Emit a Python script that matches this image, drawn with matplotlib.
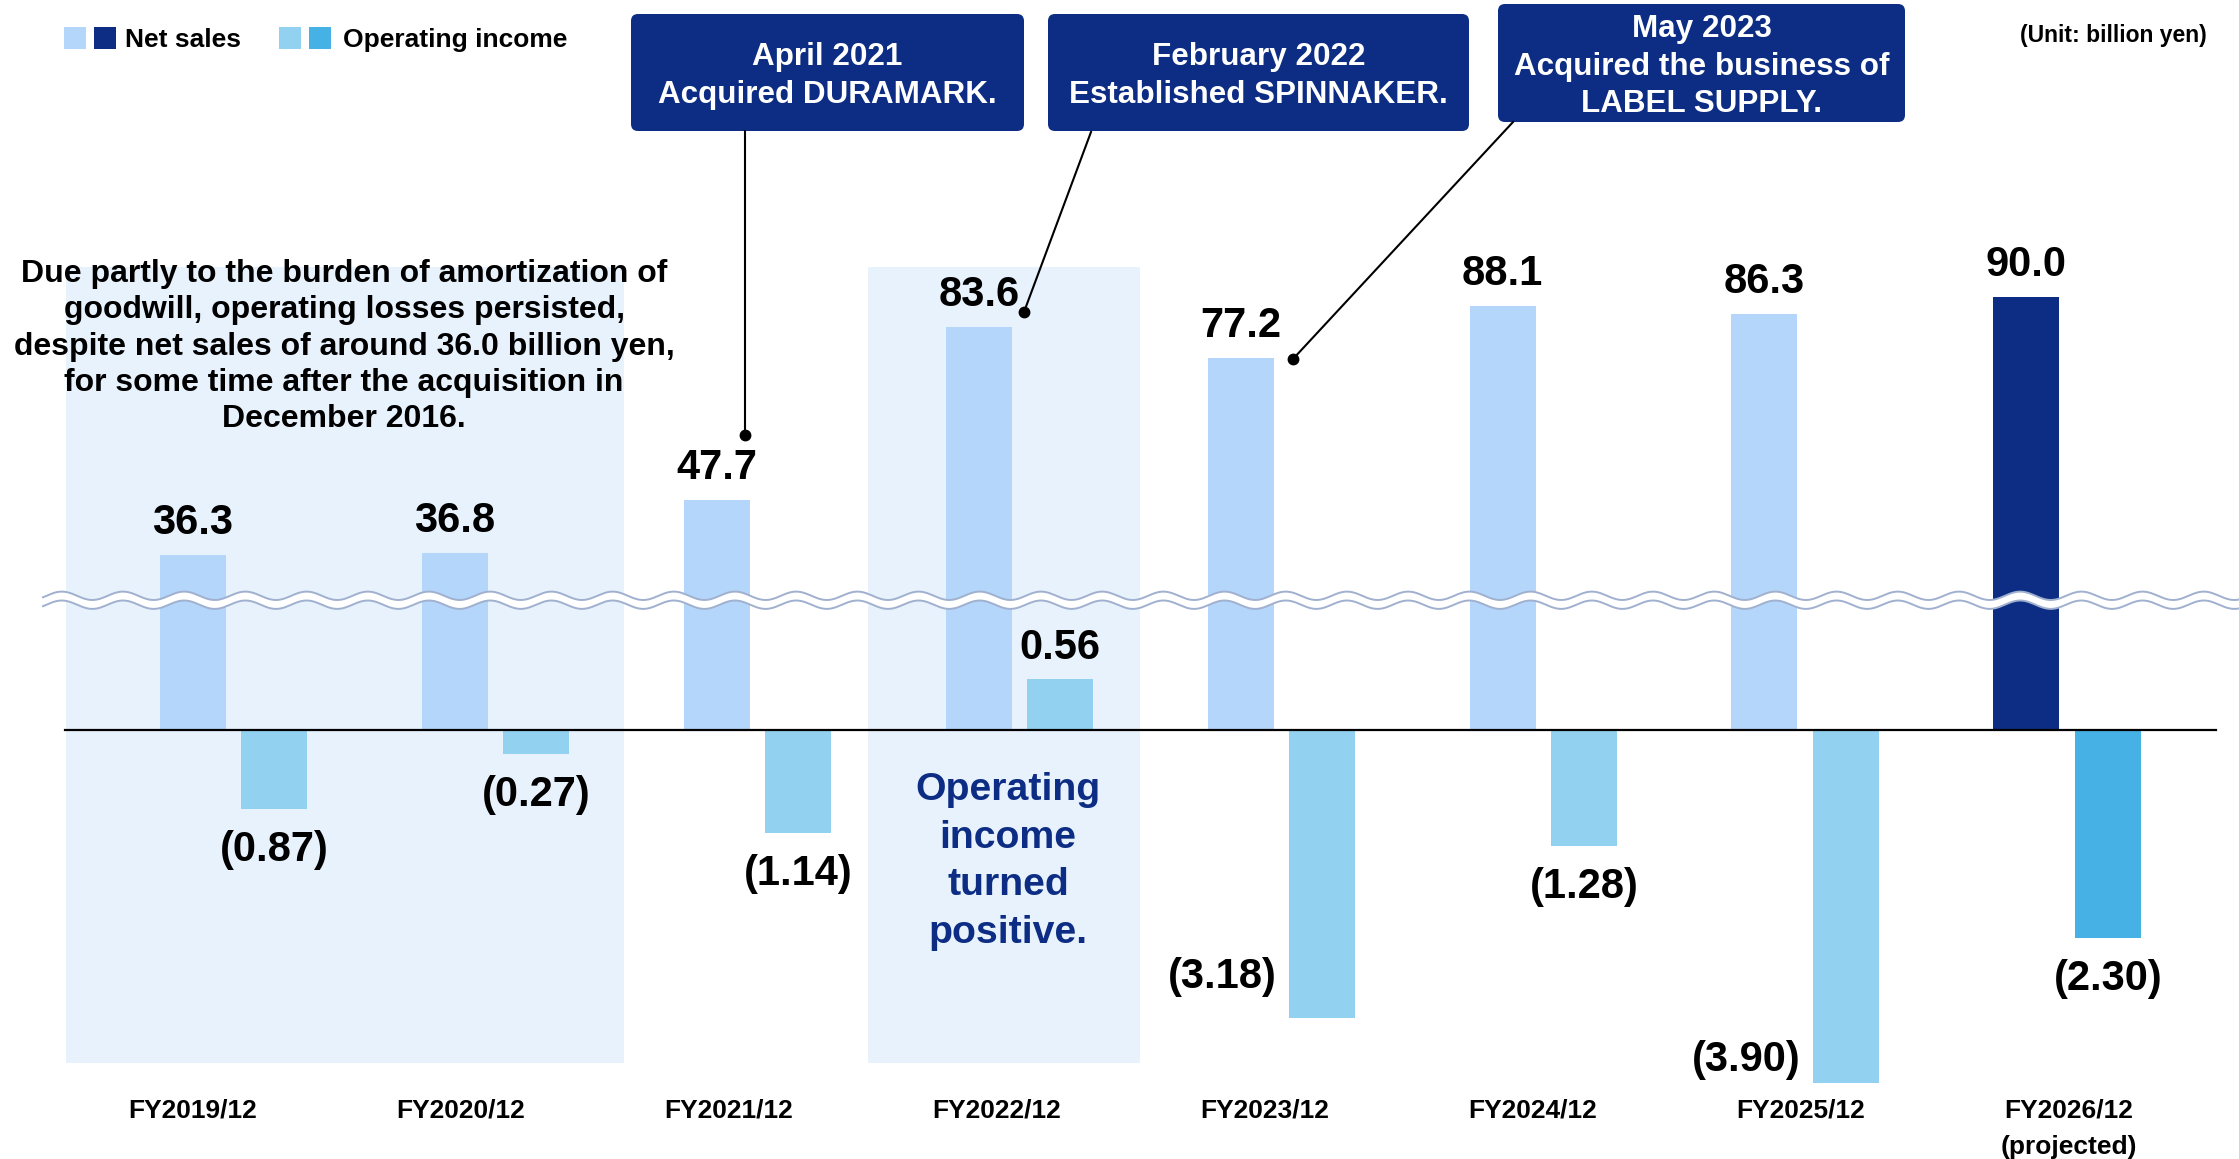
import numpy as np
import matplotlib.pyplot as plt
from matplotlib.patches import FancyBboxPatch, Rectangle, Polygon
from matplotlib.lines import Line2D
from matplotlib.transforms import Affine2D, blended_transform_factory

W, H, DPI = 2239, 1159, 100

years = ["FY2019/12", "FY2020/12", "FY2021/12", "FY2022/12",
         "FY2023/12", "FY2024/12", "FY2025/12", "FY2026/12"]
net_sales = [36.3, 36.8, 47.7, 83.6, 77.2, 88.1, 86.3, 90.0]
op_income = [-0.87, -0.27, -1.14, 0.56, -3.18, -1.28, -3.90, -2.30]
is_plan = [False, False, False, False, False, False, False, True]

C_NET = "#b4d6fa"
C_NET_P = "#0c2d83"
C_OP = "#92d1ef"
C_OP_P = "#46b1e4"
C_SHADE = "#e8f2fd"
NAVY = "#0c2d83"
WAVE = "#a0b0cf"

plt.rcParams['font.family'] = ['Liberation Sans', 'DejaVu Sans']
plt.rcParams['font.weight'] = 'bold'

fig = plt.figure(figsize=(W / DPI, H / DPI), dpi=DPI)
# pixel coords, origin at top-left
PX = Affine2D().scale(1 / DPI, -1 / DPI).translate(0, H / DPI) + fig.dpi_scale_trans

ax = fig.add_axes([0, 0, 1, 1])
ax2 = ax.twinx()
ax.set_xlim(-0.8925, 7.6565)
ax.set_ylim(-429 / 4.815, 730 / 4.815)     # net sales scale
ax2.set_ylim(-429 / 90.5, 730 / 90.5)      # operating income scale
ax.axis('off')
ax2.axis('off')

x = np.arange(len(years))
off = 81.5 / 2 / 261.9
bw = 66 / 261.9

# shaded periods
for x0, x1 in [(-0.64, 1.49), (2.42, 3.46)]:
    ax.axvspan(x0, x1, ymin=1 - 1063 / H, ymax=1 - 267 / H, color=C_SHADE, lw=0, zorder=0)

ax.bar(x - off, net_sales, bw, color=[C_NET_P if p else C_NET for p in is_plan], zorder=2)
ax2.bar(x + off, op_income, bw, color=[C_OP_P if p else C_OP for p in is_plan], zorder=2)
ax2.axhline(0, xmin=65 / W, xmax=2216 / W, color="black", lw=1.6, zorder=3)

for xi, v in zip(x, net_sales):
    ax.annotate(f"{v:.1f}", (xi - off, v), xytext=(0, 21), textcoords='offset pixels',
                ha='center', va='baseline', fontsize=30)

side = {4: 41, 6: 23}  # labels placed left of the bar
for i, (xi, v) in enumerate(zip(x, op_income)):
    if v >= 0:
        ax2.annotate(f"{v:.2f}", (xi + off, v), xytext=(0, 20), textcoords='offset pixels',
                     ha='center', va='baseline', fontsize=30)
    elif i in side:
        ax2.annotate(f"({-v:.2f})", (xi + off - bw / 2, v), xytext=(-12, side[i]),
                     textcoords='offset pixels', ha='right', va='center', fontsize=30)
    else:
        ax2.annotate(f"({-v:.2f})", (xi + off, v), xytext=(0, -21), textcoords='offset pixels',
                     ha='center', va='top', fontsize=30)

# category labels
bt = blended_transform_factory(ax.transData, PX)
for i, name in enumerate(years):
    lx = i * 1.0233 - off
    ax.text(lx, 1118, name, transform=bt, ha='center', va='baseline', fontsize=19)
    if is_plan[i]:
        ax.text(lx, 1154, "(projected)", transform=bt, ha='center', va='baseline', fontsize=19)

# axis break wave
wx = np.linspace(43, W, 900)
ph = np.cos(2 * np.pi * (wx - 123) / 61.2)
up = 595.8 - 4.2 * ph
lo = 604.7 - 4.2 * ph
fig.add_artist(Polygon(np.column_stack([np.r_[wx, wx[::-1]], np.r_[up, lo[::-1]]]),
                       closed=True, transform=PX, fc="white", ec="none", zorder=5))
fig.add_artist(Line2D(wx, up, transform=PX, color=WAVE, lw=1.4, zorder=6))
fig.add_artist(Line2D(wx, lo, transform=PX, color=WAVE, lw=1.4, zorder=6))

# legend
for lx0, c in [(64, C_NET), (94, C_NET_P), (279, C_OP), (309, C_OP_P)]:
    fig.add_artist(Rectangle((lx0, 27), 22, 22, transform=PX, fc=c, ec="none"))
fig.text(125, 47, "Net sales", transform=PX, fontsize=19, va='baseline')
fig.text(343, 47, "Operating income", transform=PX, fontsize=19, va='baseline')
fig.text(2207, 42, "(Unit: billion yen)", transform=PX, fontsize=16.5, ha='right', va='baseline')

# event call-outs
events = [
    ((631, 14, 393, 117), ["April 2021", "Acquired DURAMARK."], [65, 103],
     [(745, 131), (745, 435)]),
    ((1048, 14, 421, 117), ["February 2022", "Established SPINNAKER."], [65, 103],
     [(1091, 132), (1024, 312)]),
    ((1498, 4, 407, 118), ["May 2023", "Acquired the business of", "LABEL SUPPLY."],
     [37, 75, 112], [(1513, 122), (1293, 359)]),
]
for (bx, by, bwid, bh), lines, bases, ((x0, y0), (x1, y1)) in events:
    fig.add_artist(FancyBboxPatch((bx, by), bwid, bh, boxstyle="round,pad=0,rounding_size=7",
                                  transform=PX, fc=NAVY, ec="none", zorder=4))
    for t, b in zip(lines, bases):
        fig.text(bx + bwid / 2, b, t, transform=PX, color="white", fontsize=22.6,
                 ha='center', va='baseline', zorder=7)
    fig.add_artist(Line2D([x0, x1], [y0, y1], transform=PX, color="black", lw=1.5, zorder=4))
    fig.add_artist(Line2D([x1], [y1], transform=PX, marker='o', ms=7.5, color="black", zorder=4))

note = ["Due partly to the burden of amortization of",
        "goodwill, operating losses persisted,",
        "despite net sales of around 36.0 billion yen,",
        "for some time after the acquisition in",
        "December 2016."]
for k, t in enumerate(note):
    fig.text(344, 282 + 36.25 * k, t, transform=PX, fontsize=23, ha='center', va='baseline')

for k, t in enumerate(["Operating", "income", "turned", "positive."]):
    fig.text(1008, 800 + 47.7 * k, t, transform=PX, fontsize=28.3, color=NAVY,
             ha='center', va='baseline')

fig.savefig("out.png", dpi=DPI)
